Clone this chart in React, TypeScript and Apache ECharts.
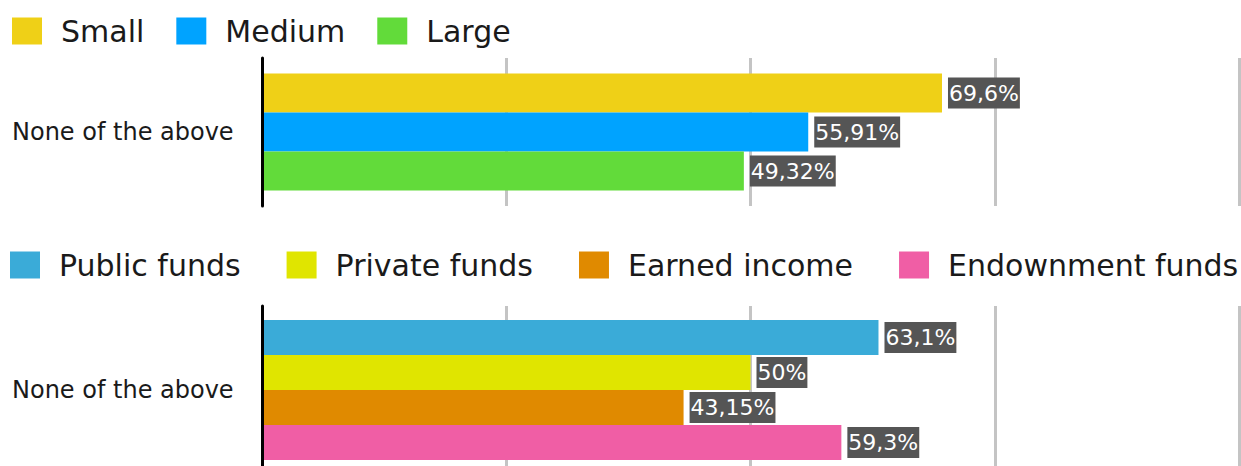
import React, { useEffect, useRef } from "react";
import * as echarts from "echarts";

const category = ["None of the above"];

const sizeNames = ["Small", "Medium", "Large"];
const sizeValues = [69.6, 55.91, 49.32];
const sizeColors = ["#EFD017", "#00A3FF", "#62DB3A"];

const fundNames = ["Public funds", "Private funds", "Earned income", "Endownment funds"];
const fundValues = [63.1, 50, 43.15, 59.3];
const fundColors = ["#3AABD8", "#E0E500", "#E08A00", "#F05EA5"];

const xTicks = { min: 0, max: 100, interval: 25 };

const FONT = "DejaVu Sans";

export default function App() {
  const ref = useRef<HTMLDivElement>(null);

  useEffect(() => {
    if (!ref.current) return;
    const chart = echarts.init(ref.current, undefined, { renderer: "svg" });

    const label = {
      show: true,
      position: "right",
      distance: 6,
      formatter: (p: any) => String(p.value).replace(".", ",") + "%",
      backgroundColor: "#555555",
      color: "#ffffff",
      fontFamily: FONT,
      fontSize: 22,
      padding: [5, 1, 4, 1],
    };

    const mkX = (gi: number) => ({
      type: "value",
      gridIndex: gi,
      min: xTicks.min,
      max: xTicks.max,
      interval: xTicks.interval,
      axisLabel: { show: false },
      axisLine: { show: false },
      axisTick: { show: false },
      splitLine: { show: true, lineStyle: { color: "#c4c4c4", width: 3 } },
    });

    const mkY = (gi: number) => ({
      type: "category",
      gridIndex: gi,
      data: category,
      inverse: true,
      z: 5,
      axisLine: { show: true, lineStyle: { color: "#000000", width: 3 } },
      axisTick: { show: false },
      axisLabel: {
        show: true,
        align: "left",
        margin: 250,
        fontFamily: FONT,
        fontSize: 24,
        color: "#1a1a1a",
      },
    });

    const legendBase = {
      orient: "horizontal",
      itemWidth: 30,
      itemHeight: 27,
      icon: "rect",
      selectedMode: false,
      padding: 0,
      width: 1238,
      textStyle: {
        fontFamily: FONT,
        fontSize: 30,
        color: "#1a1a1a",
        padding: [0, 0, 0, 14],
      },
    };

    const series: any[] = [];
    sizeNames.forEach((n, i) => {
      series.push({
        type: "bar",
        name: n,
        xAxisIndex: 0,
        yAxisIndex: 0,
        data: [sizeValues[i]],
        barWidth: 39,
        barGap: "0%",
        itemStyle: { color: sizeColors[i] },
        label,
      });
    });
    fundNames.forEach((n, i) => {
      series.push({
        type: "bar",
        name: n,
        xAxisIndex: 1,
        yAxisIndex: 1,
        data: [fundValues[i]],
        barWidth: 35,
        barGap: "0%",
        itemStyle: { color: fundColors[i] },
        label,
      });
    });

    chart.setOption({
      animation: false,
      backgroundColor: "#ffffff",
      legend: [
        { ...legendBase, left: 12, top: 16, itemGap: 32, data: sizeNames },
        { ...legendBase, left: 10, top: 250, itemGap: 46, data: fundNames },
      ],
      grid: [
        { left: 262, top: 58, width: 977, height: 148, containLabel: false },
        { left: 262, top: 306, width: 977, height: 168, containLabel: false },
      ],
      xAxis: [mkX(0), mkX(1)],
      yAxis: [mkY(0), mkY(1)],
      series,
    });

    return () => chart.dispose();
  }, []);

  return (
    <div
      style={{
        position: "absolute",
        left: 0,
        top: 0,
        width: 1241,
        height: 466,
        overflow: "hidden",
      }}
    >
      <div ref={ref} style={{ width: 1241, height: 474 }} />
    </div>
  );
}
